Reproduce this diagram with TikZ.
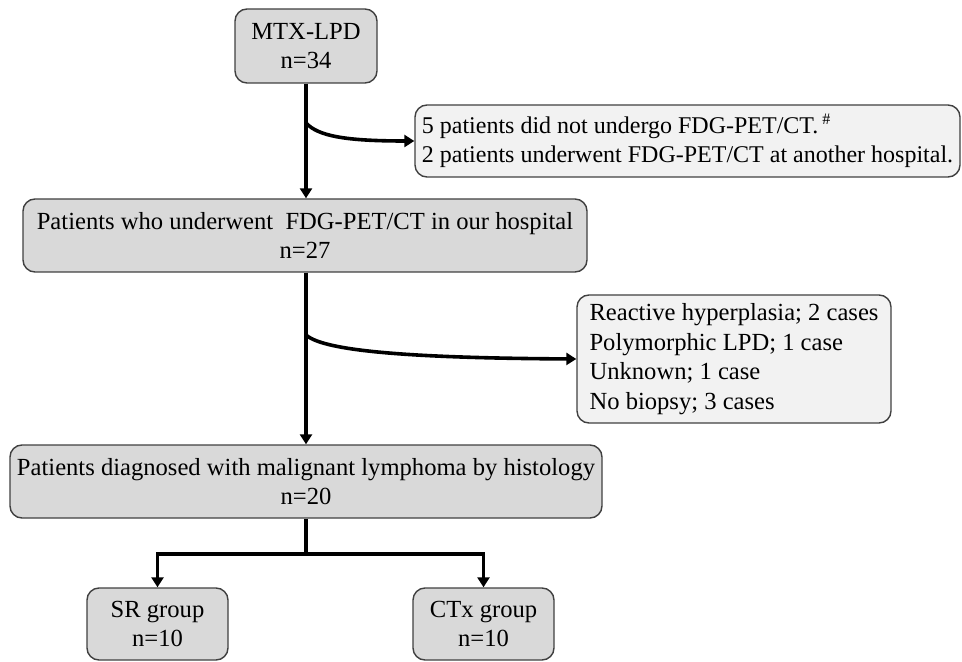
\documentclass[tikz,border=0pt]{standalone}
\usepackage{fontspec}
\setmainfont{Liberation Serif}
\usetikzlibrary{arrows.meta}
\begin{document}
\begin{tikzpicture}[x=0.5pt,y=-0.5pt]
\tikzstyle{box}=[draw=black!75, line width=0.7pt, rounded corners=6pt, fill=black!15, align=center, inner sep=0pt, font=\fontsize{12.3}{14.8}\selectfont]
\tikzstyle{side}=[box, fill=black!5, align=left]
\tikzstyle{arr}=[line width=1.8pt, -{Triangle[length=5pt,width=6pt]}]
\useasboundingbox (0,0) rectangle (962,662);
\node[box, minimum width=71pt, minimum height=37pt] (mtx) at (306,46) {MTX-LPD\\n=34};
\node[box, minimum width=282pt, minimum height=36.5pt] (hosp) at (305,235.5) {Patients who underwent~ FDG-PET/CT in our hospital\\n=27};
\node[box, minimum width=296pt, minimum height=36.5pt] (lymph) at (306,481.5) {Patients diagnosed with malignant lymphoma by histology\\n=20};
\node[side, minimum width=272.5pt, minimum height=36pt, font=\fontsize{12}{14.8}\selectfont] (excl1) at (687.5,141) {5 patients did not undergo FDG-PET/CT.\,\textsuperscript{\#}\\2 patients underwent FDG-PET/CT at another hospital.};
\node[side, minimum width=157pt, minimum height=64pt] (excl2) at (734,359) {Reactive hyperplasia; 2 cases\\Polymorphic LPD; 1 case\\Unknown; 1 case\\No biopsy; 3 cases};
\node[box, minimum width=70.5pt, minimum height=36pt] (sr) at (157.5,624) {SR group\\n=10};
\node[box, minimum width=70.5pt, minimum height=36pt] (ctx) at (483.5,624) {CTx group\\n=10};
\coordinate (b1) at (306,123);
\coordinate (b2) at (306,335);
\coordinate (split) at (306,554);
\draw[arr] (mtx.south) -- (mtx.south |- hosp.north);
\draw[arr] (b1) .. controls (318,136) and (345,141) .. (excl1.west);
\draw[arr] (hosp.south -| mtx) -- (lymph.north);
\draw[arr] (b2) .. controls (325,352) and (420,358) .. (excl2.west);
\draw[line width=1.8pt] (lymph.south) -- (split);
\foreach \g in {sr,ctx}{
	\draw[arr] (split) -| (\g.north);}
\end{tikzpicture}
\end{document}
